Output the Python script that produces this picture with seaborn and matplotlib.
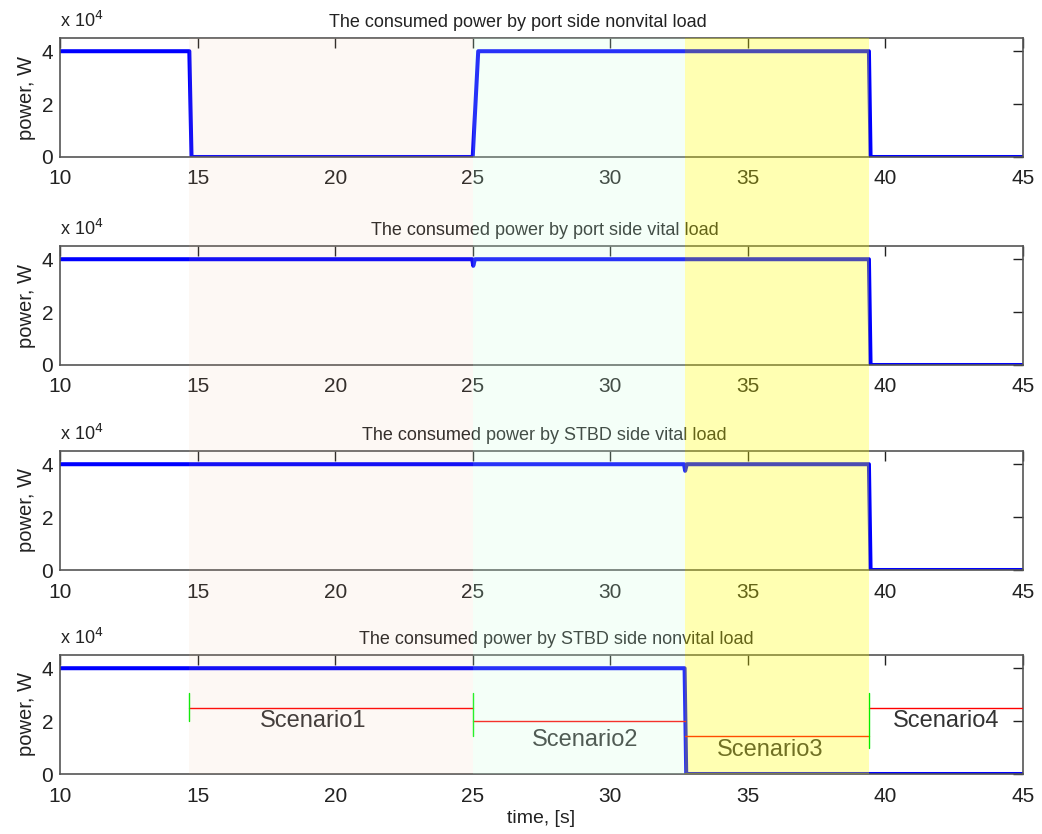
import matplotlib
matplotlib.use("Agg")
import matplotlib.pyplot as plt
import matplotlib.ticker as mticker
import seaborn as sns
import pandas as pd

sns.set_theme(style="white")
plt.rcParams["font.family"] = ["Liberation Sans", "DejaVu Sans"]

# Load power traces, W (step profiles with breakpoints in seconds)
t_port_nonvital = [10.0, 14.70, 14.78, 25.00, 25.20, 39.40, 39.46, 45.0]
p_port_nonvital = [40000, 40000, 0, 0, 40000, 40000, 0, 0]

t_port_vital = [10.0, 24.98, 25.02, 25.08, 39.40, 39.46, 45.0]
p_port_vital = [40000, 40000, 37500, 40000, 40000, 0, 0]

t_stbd_vital = [10.0, 32.68, 32.72, 32.78, 39.40, 39.46, 45.0]
p_stbd_vital = [40000, 40000, 37500, 40000, 40000, 0, 0]

t_stbd_nonvital = [10.0, 32.70, 32.76, 45.0]
p_stbd_nonvital = [40000, 40000, 0, 0]

titles = [
    "The consumed power by port side nonvital load",
    "The consumed power by port side vital load",
    "The consumed power by STBD side vital load",
    "The consumed power by STBD side nonvital load",
]
title_x = [0.475, 0.503, 0.503, 0.515]

# Scenario boundaries (s) and marker levels (W)
scenario_names = ["Scenario1", "Scenario2", "Scenario3", "Scenario4"]
scenario_start = [14.7, 25.0, 32.7, 39.4]
scenario_end = [25.0, 32.7, 39.4, 45.0]
scenario_level = [25000, 20000, 14500, 25000]
scenario_label_x = [19.2, 29.1, 35.8, 42.2]
scenario_label_y = [20000, 13000, 9200, 20000]
boundary_x = [14.7, 25.0, 39.4]
boundary_lo = [20000, 14200, 9800]
boundary_hi = [30500, 30500, 30500]
scenario_shade = ["#f0b48c", "#c8ffdc", "#ffff00"]
scenario_alpha = [0.09, 0.2, 0.3]

series = [
    (t_port_nonvital, p_port_nonvital),
    (t_port_vital, p_port_vital),
    (t_stbd_vital, p_stbd_vital),
    (t_stbd_nonvital, p_stbd_nonvital),
]

fig = plt.figure(figsize=(10.42, 8.34), dpi=100)
left, width = 60 / 1042, (1023 - 60) / 1042
tops = [38, 246, 451, 655]
h_px = 119
axes = []
spine_col = "#555555"
txt_col = "#222222"
for i, (top, (t, p)) in enumerate(zip(tops, series)):
    ax = fig.add_axes([left, 1 - (top + h_px) / 834, width, h_px / 834])
    df = pd.DataFrame({"time": t, "power": p})
    sns.lineplot(data=df, x="time", y="power", ax=ax, color="#0000ff",
                 lw=2.9, estimator=None, sort=False)
    ax.set_xlim(10, 45)
    ax.set_ylim(0, 45000)
    ax.set_xticks([10, 15, 20, 25, 30, 35, 40, 45])
    ax.set_yticks([0, 20000, 40000])
    ax.yaxis.set_major_formatter(mticker.FuncFormatter(lambda v, _: f"{v/1e4:.0f}"))
    ax.tick_params(direction="in", length=7, width=1, top=True, right=True,
                   labelsize=15, colors=txt_col)
    ax.tick_params(axis="x", pad=9)
    ax.tick_params(axis="y", pad=5)
    for sp in ax.spines.values():
        sp.set_color(spine_col)
        sp.set_linewidth(1.2)
    ax.set_title(titles[i], fontsize=13, color=txt_col, pad=8, x=title_x[i])
    ax.set_ylabel("power, W", fontsize=14.5, color=txt_col, labelpad=4)
    ax.set_xlabel("")
    ax.text(0.0, 1.06, r"x 10$^4$", transform=ax.transAxes, fontsize=13,
            color=txt_col, ha="left", va="bottom")
    axes.append(ax)

ax4 = axes[-1]
ax4.set_xlabel("time, [s]", fontsize=14, color=txt_col, labelpad=3)

# Scenario markers on the bottom panel
for s0, s1, lvl in zip(scenario_start, scenario_end, scenario_level):
    ax4.plot([s0, s1], [lvl, lvl], color="#ff0000", lw=1.0, zorder=3)
for x0, y0, y1 in zip(boundary_x, boundary_lo, boundary_hi):
    ax4.plot([x0, x0], [y0, y1], color="#00ee00", lw=1.0, zorder=3)
for name, lx, ly in zip(scenario_names, scenario_label_x, scenario_label_y):
    ax4.text(lx, ly, name, fontsize=17, color="#333333", ha="center", va="center")

# Translucent scenario bands laid over all four panels
ov = fig.add_axes([left, 1 - (tops[-1] + h_px) / 834, width,
                   (tops[-1] + h_px - tops[0]) / 834], zorder=10)
ov.set_xlim(10, 45)
ov.set_ylim(0, 1)
ov.patch.set_alpha(0)
ov.axis("off")
for s0, s1, c, a in zip(scenario_start[:3], scenario_end[:3], scenario_shade, scenario_alpha):
    ov.axvspan(s0, s1, color=c, alpha=a, lw=0)

fig.savefig("out.png", dpi=100)
